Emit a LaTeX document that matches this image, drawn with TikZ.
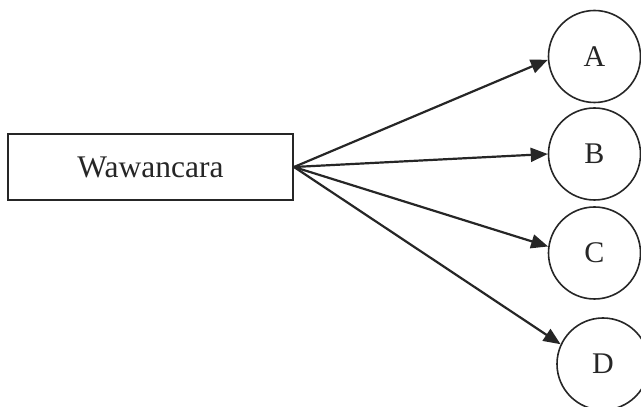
\documentclass[tikz,border=0pt]{standalone}
\usepackage{fontspec}
\setmainfont{Liberation Serif}
\usetikzlibrary{arrows.meta}
\begin{document}
\begin{tikzpicture}[x=1pt,y=1pt,
  box/.style={draw=black!85,line width=2pt,minimum width=285pt,minimum height=66pt,inner sep=0pt,font=\fontsize{31.5}{36}\selectfont,text=black!85},
  letter/.style={circle,draw=black!85,line width=1.6pt,minimum size=92pt,inner sep=0pt,font=\fontsize{30}{34}\selectfont,text=black!85},
  conn/.style={draw=black!85,line width=2.2pt,-{Triangle[length=17pt,width=14pt]}}]
\useasboundingbox (0,0) rectangle (641,407);
\clip (0,0) rectangle (641,407);
\node[box] (w) at (150.5,240) {Wawancara};
\node[letter] (A) at (594.5,350.5) {A};
\node[letter] (B) at (594.5,253) {B};
\node[letter] (C) at (594.5,154) {C};
\node[letter] (D) at (603,43) {D};
\draw[conn] (w.east) -- (A.184);
\draw[conn] (w.east) -- (B.west);
\draw[conn] (w.east) -- (C.172);
\draw[conn] (w.east) -- (D.155);
\end{tikzpicture}
\end{document}
